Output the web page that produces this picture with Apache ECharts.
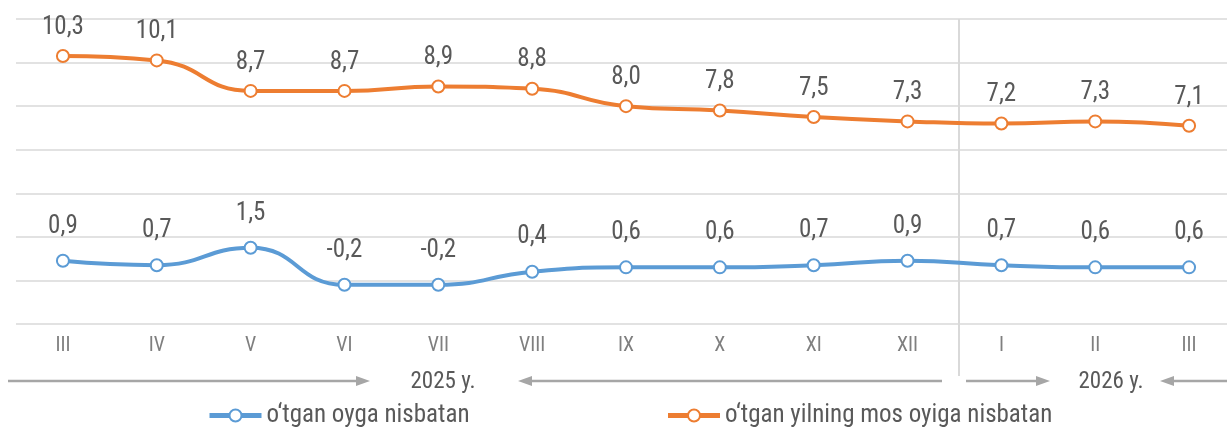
<!DOCTYPE html>
<html>
<head>
<meta charset="utf-8">
<script src="https://cdn.jsdelivr.net/npm/echarts@6/dist/echarts.min.js"></script>
<style>
  html, body { margin: 0; padding: 0; background: #fff; }
  #chart { width: 1227px; height: 433px; }
</style>
</head>
<body>
<div id="chart"></div>
<script>
var months = ['III', 'IV', 'V', 'VI', 'VII', 'VIII', 'IX', 'X', 'XI', 'XII', 'I', 'II', 'III'];
var monthly = [0.9, 0.7, 1.5, -0.2, -0.2, 0.4, 0.6, 0.6, 0.7, 0.9, 0.7, 0.6, 0.6];
var yearly = [10.3, 10.1, 8.7, 8.7, 8.9, 8.8, 8.0, 7.8, 7.5, 7.3, 7.2, 7.3, 7.1];
var seriesNames = ['o\u2018tgan oyga nisbatan', 'o\u2018tgan yilning mos oyiga nisbatan'];
var yearLabels = ['2025 y.', '2026 y.'];

var font = "'Liberation Sans Narrow', 'Roboto Condensed', Roboto, sans-serif";
var textColor = '#595959';
var arrowColor = '#A6A6A6';

function fmt(p) {
  return p.value.toFixed(1).replace('.', ',');
}

// arrow helper: line + triangle head, dir = 1 points right, -1 points left
function arrow(x1, x2, y) {
  var dir = x2 > x1 ? 1 : -1;
  var head = 14;
  return [
    {
      type: 'line',
      shape: { x1: x1, y1: y, x2: x2 - dir * head, y2: y },
      style: { stroke: arrowColor, lineWidth: 2.5 }
    },
    {
      type: 'polygon',
      shape: { points: [[x2, y], [x2 - dir * head, y - 5], [x2 - dir * head, y + 5]] },
      style: { fill: arrowColor }
    }
  ];
}

var chart = echarts.init(document.getElementById('chart'));

var graphics = [
  {
    type: 'line',
    shape: { x1: 959, y1: 19, x2: 959, y2: 376 },
    style: { stroke: '#D9D9D9', lineWidth: 2 }
  },
  {
    type: 'text', x: 443, y: 382,
    style: { text: yearLabels[0], fill: textColor, font: '23px ' + font, textAlign: 'center', textVerticalAlign: 'middle' }
  },
  {
    type: 'text', x: 1111, y: 382,
    style: { text: yearLabels[1], fill: textColor, font: '23px ' + font, textAlign: 'center', textVerticalAlign: 'middle' }
  }
].concat(arrow(8, 370, 381), arrow(942, 518, 381), arrow(966, 1050, 381), arrow(1227, 1160, 381));

var option = {
  animation: false,
  textStyle: { fontFamily: font },
  grid: { left: 16, right: -9, top: 19, bottom: 109, outerBoundsMode: 'none', containLabel: false },
  legend: {
    data: seriesNames,
    bottom: 0,
    left: 202,
    itemGap: 196,
    itemWidth: 52,
    itemHeight: 15,
    lineStyle: { width: 5 },
    textStyle: { fontSize: 25, color: textColor, fontFamily: font }
  },
  xAxis: {
    type: 'category',
    data: months,
    boundaryGap: true,
    axisLine: { show: false },
    axisTick: { show: false },
    axisLabel: { color: '#7F7F7F', fontSize: 20, margin: 12, fontFamily: font }
  },
  yAxis: {
    type: 'value',
    min: -2,
    max: 12,
    interval: 2,
    axisLabel: { show: false },
    axisLine: { show: false },
    axisTick: { show: false },
    splitLine: { lineStyle: { color: '#D9D9D9', width: 1.5 } }
  },
  series: [
    {
      name: seriesNames[0],
      type: 'line',
      data: monthly,
      smooth: 0.5,
      symbol: 'circle',
      symbolSize: 12,
      itemStyle: { color: '#FFFFFF', borderColor: '#5B9BD5', borderWidth: 2 },
      lineStyle: { color: '#5B9BD5', width: 4 },
      label: { show: true, position: 'top', distance: 15, formatter: fmt, fontSize: 25, color: textColor, fontFamily: font }
    },
    {
      name: seriesNames[1],
      type: 'line',
      data: yearly,
      smooth: 0.5,
      symbol: 'circle',
      symbolSize: 12,
      itemStyle: { color: '#FFFFFF', borderColor: '#ED7D31', borderWidth: 2 },
      lineStyle: { color: '#ED7D31', width: 4 },
      label: { show: true, position: 'top', distance: 9, formatter: fmt, fontSize: 25, color: textColor, fontFamily: font }
    }
  ],
  graphic: graphics
};

chart.setOption(option);
</script>
</body>
</html>
